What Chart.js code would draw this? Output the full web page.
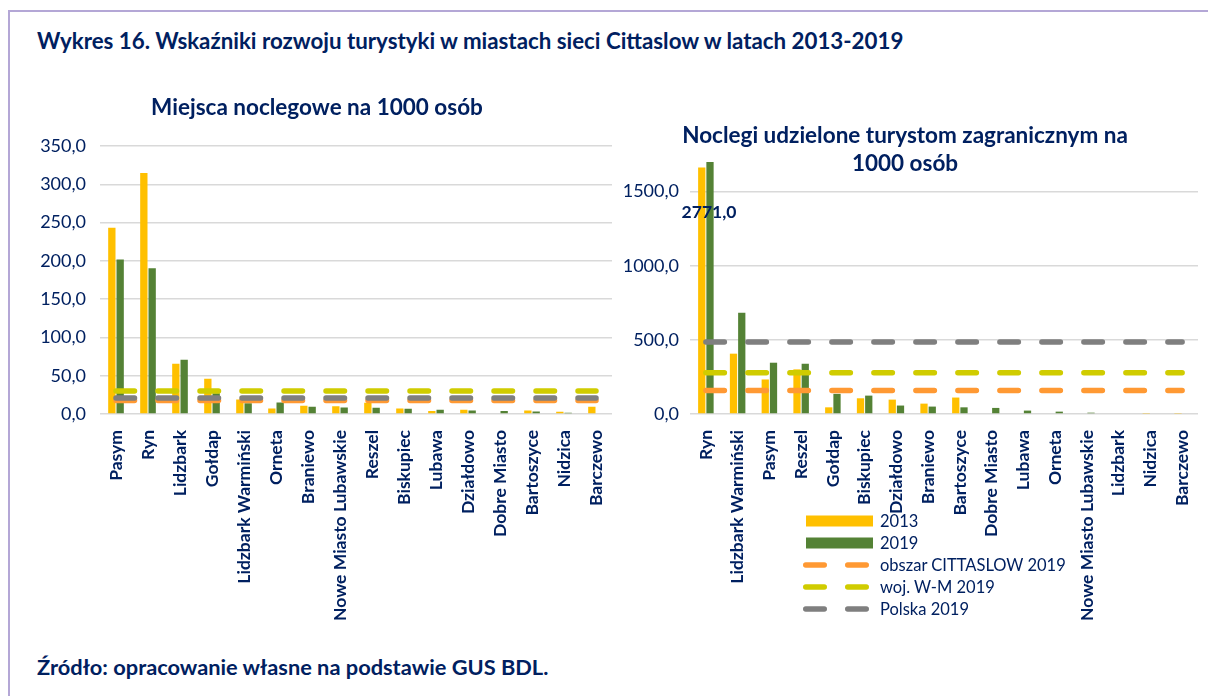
<!DOCTYPE html>
<html>
<head>
<meta charset="utf-8">
<script src="https://cdn.jsdelivr.net/npm/chart.js@4.4.1/dist/chart.umd.min.js"></script>
<style>
  body { margin: 0; background: #fff; font-family: Lato, sans-serif; color: #002060; overflow: hidden; }
  #page { position: relative; width: 1208px; height: 696px; overflow: hidden; }
  #frame { position: absolute; left: 8px; top: 10px; width: 1198px; height: 684px;
    border-top: 2px solid #b4a7d6; border-left: 2px solid #b4a7d6; }
  #mainTitle { position: absolute; left: 37px; top: 28px; font-weight: bold; font-size: 22.3px; line-height: 26px; white-space: nowrap; }
  #source { position: absolute; left: 37px; top: 654px; font-weight: bold; font-size: 21.8px; line-height: 26px; white-space: nowrap; }
  canvas { position: absolute; }
  #leftChart { left: 22px; top: 88px; }
  #rightChart { left: 612px; top: 118px; }
  #legend { position: absolute; left: 803px; top: 510px; font-size: 16.5px; }
  #legend .row { height: 22px; display: flex; align-items: center; white-space: nowrap; }
  #legend svg { width: 77px; height: 14px; flex: none; }
</style>
</head>
<body>
<div id="page">
  <div id="frame"></div>
  <div id="mainTitle">Wykres 16. Wskaźniki rozwoju turystyki w miastach sieci Cittaslow w latach 2013-2019</div>
  <canvas id="leftChart" width="594" height="545"></canvas>
  <canvas id="rightChart" width="588" height="515"></canvas>
  <div id="legend"></div>
  <div id="source">Źródło: opracowanie własne na podstawie GUS BDL.</div>
</div>
<script>
// Miejsca noclegowe na 1000 osób
const leftCities = ["Pasym", "Ryn", "Lidzbark", "Gołdap", "Lidzbark Warmiński", "Orneta", "Braniewo",
  "Nowe Miasto Lubawskie", "Reszel", "Biskupiec", "Lubawa", "Działdowo", "Dobre Miasto", "Bartoszyce", "Nidzica", "Barczewo"];
const beds2013 = [243.5, 315.0, 65.5, 46.0, 19.0, 7.3, 10.8, 10.0, 14.7, 7.3, 3.9, 5.6, 0, 4.7, 3.0, 9.5];
const beds2019 = [202.0, 190.5, 71.0, 27.0, 14.0, 15.0, 9.5, 8.6, 8.2, 6.9, 5.6, 4.7, 3.9, 3.4, 1.7, 0];
const bedsCittaslow = [17.5, 17.5, 17.5, 17.5, 17.5, 17.5, 17.5, 17.5, 17.5, 17.5, 17.5, 17.5, 17.5, 17.5, 17.5, 17.5];
const bedsWM = [30, 30, 30, 30, 30, 30, 30, 30, 30, 30, 30, 30, 30, 30, 30, 30];
const bedsPolska = [21, 21, 21, 21, 21, 21, 21, 21, 21, 21, 21, 21, 21, 21, 21, 21];
const leftTicks = [0, 50, 100, 150, 200, 250, 300, 350];

// Noclegi udzielone turystom zagranicznym na 1000 osób
const rightCities = ["Ryn", "Lidzbark Warmiński", "Pasym", "Reszel", "Gołdap", "Biskupiec", "Działdowo", "Braniewo",
  "Bartoszyce", "Dobre Miasto", "Lubawa", "Orneta", "Nowe Miasto Lubawskie", "Lidzbark", "Nidzica", "Barczewo"];
const foreign2013 = [1663, 407, 233, 301, 45, 106, 97, 70, 111, 0, 0, 0, 0, 0, 3, 3];
const foreign2019 = [2771, 683, 346, 339, 136, 124, 57, 50, 45, 41, 23, 16, 9, 5, 0, 0];
const foreignCittaslow = [158, 158, 158, 158, 158, 158, 158, 158, 158, 158, 158, 158, 158, 158, 158, 158];
const foreignWM = [278, 278, 278, 278, 278, 278, 278, 278, 278, 278, 278, 278, 278, 278, 278, 278];
const foreignPolska = [486, 486, 486, 486, 486, 486, 486, 486, 486, 486, 486, 486, 486, 486, 486, 486];
const rightTicks = [0, 500, 1000, 1500];

const seriesLabels = ["2013", "2019", "obszar CITTASLOW 2019", "woj. W-M 2019", "Polska 2019"];
const seriesColors = ["#FFC000", "#548235", "#FF9933", "#D0CC00", "#7F7F7F"];

const NAVY = "#002060";
const DASH = [18.5, 23.5];
const LINE_W = 5.5;

function fmt(v) {
  return Number(v).toFixed(1).replace(".", ",");
}

function lineSet(i, data, order) {
  return {
    type: "line", label: seriesLabels[i], data: data,
    borderColor: seriesColors[i], backgroundColor: seriesColors[i],
    borderWidth: LINE_W, borderDash: DASH, borderCapStyle: "round",
    pointRadius: 0, fill: false, order: order
  };
}

function makeDatasets(v2013, v2019, vCitta, vWM, vPl) {
  return [
    { type: "bar", label: seriesLabels[0], data: v2013, backgroundColor: seriesColors[0], order: 10,
      categoryPercentage: 0.52, barPercentage: 0.88 },
    { type: "bar", label: seriesLabels[1], data: v2019, backgroundColor: seriesColors[1], order: 10,
      categoryPercentage: 0.52, barPercentage: 0.88 },
    lineSet(2, vCitta, 3),
    lineSet(3, vWM, 2),
    lineSet(4, vPl, 1)
  ];
}

function makeOptions(title, titlePad, yMax, yTicks, yWidth, yPad, rightPad, xHeight) {
  return {
    responsive: false,
    animation: false,
    layout: { padding: { left: 0, right: rightPad, top: 0, bottom: 0 } },
    plugins: {
      legend: { display: false },
      tooltip: { enabled: false },
      title: {
        display: true, text: title, color: NAVY, padding: titlePad,
        font: { family: "Lato", size: 22.5, weight: "bold", lineHeight: 1.25 }
      }
    },
    scales: {
      x: {
        grid: { display: false, drawTicks: false },
        border: { display: false },
        ticks: {
          color: NAVY, autoSkip: false, minRotation: 90, maxRotation: 90, padding: 16,
          font: { family: "Lato", size: 17.5, weight: "bold" }
        },
        afterFit(scale) {
          scale.height = xHeight;
          scale.paddingLeft = 0;
          scale.paddingRight = 0;
        }
      },
      y: {
        min: 0, max: yMax,
        grid: { color: "#D9D9D9", lineWidth: 1.5, drawTicks: false },
        border: { display: false },
        ticks: {
          color: NAVY, padding: yPad,
          font: { family: "Lato", size: 18 },
          callback: v => fmt(v)
        },
        afterBuildTicks(scale) { scale.ticks = yTicks.map(v => ({ value: v })); },
        afterFit(scale) { scale.width = yWidth; }
      }
    }
  };
}

// value label for the bar that runs past the axis maximum
const overflowLabel = {
  id: "overflowLabel",
  afterDatasetsDraw(chart) {
    const y = chart.scales.y;
    const ds = chart.data.datasets[1];
    const meta = chart.getDatasetMeta(1);
    const ctx = chart.ctx;
    meta.data.forEach((bar, i) => {
      if (ds.data[i] <= y.max) return;
      ctx.save();
      ctx.fillStyle = NAVY;
      ctx.font = "bold 17.5px Lato";
      ctx.textAlign = "center";
      ctx.textBaseline = "middle";
      ctx.fillText(fmt(ds.data[i]), bar.x - 1, y.getPixelForValue(y.max * 0.8));
      ctx.restore();
    });
  }
};

new Chart(document.getElementById("leftChart"), {
  type: "bar",
  data: { labels: leftCities, datasets: makeDatasets(beds2013, beds2019, bedsCittaslow, bedsWM, bedsPolska) },
  options: makeOptions("Miejsca noclegowe na 1000 osób", { top: 6, bottom: 24 }, 350, leftTicks, 78, 14, 4, 219)
});

const rightChart = new Chart(document.getElementById("rightChart"), {
  type: "bar",
  data: { labels: rightCities, datasets: makeDatasets(foreign2013, foreign2019, foreignCittaslow, foreignWM, foreignPolska) },
  options: makeOptions(["Noclegi udzielone turystom zagranicznym na", "1000 osób"], { top: 4, bottom: -16.25 },
    1700, rightTicks, 78, 11, 2, 219),
  plugins: [overflowLabel]
});

// legend under the right chart
const legendDiv = document.getElementById("legend");
rightChart.data.datasets.forEach(ds => {
  let swatch;
  if (ds.type === "bar") {
    swatch = `<svg viewBox="0 0 77 14"><rect x="3" y="1.5" width="67" height="11" fill="${ds.backgroundColor}"/></svg>`;
  } else {
    swatch = `<svg viewBox="0 0 77 14"><line x1="2.75" y1="7" x2="63.25" y2="7" stroke="${ds.borderColor}"
      stroke-width="${LINE_W}" stroke-linecap="round" stroke-dasharray="${DASH.join(" ")}"/></svg>`;
  }
  const row = document.createElement("div");
  row.className = "row";
  row.innerHTML = swatch + `<span>${ds.label}</span>`;
  legendDiv.appendChild(row);
});
</script>
</body>
</html>
